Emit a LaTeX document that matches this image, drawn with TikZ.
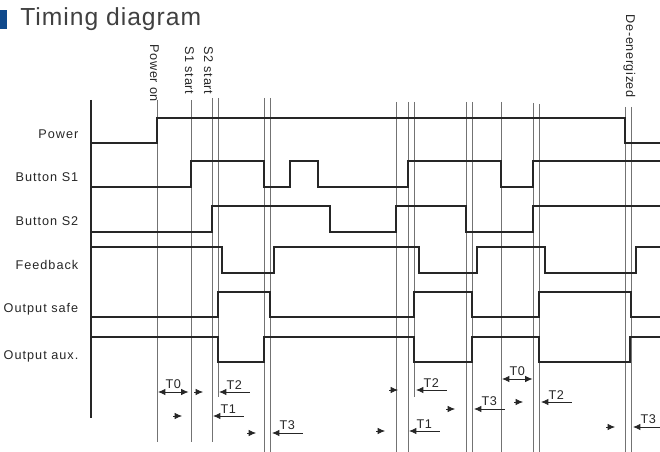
\documentclass[tikz,border=0pt]{standalone}
\usepackage{fontspec}
\setmainfont{Liberation Sans}
\newfontfamily\sigfont[LetterSpace=8]{Liberation Sans}
\newfontfamily\evtfont[LetterSpace=5]{Liberation Sans}
\newfontfamily\headfont[LetterSpace=4]{Liberation Sans}
\usetikzlibrary{arrows.meta}

\definecolor{headblue}{RGB}{16,74,140}

\newcommand*{\xleft}{91}
\newcommand*{\xright}{662}
\newcommand*{\ytop}{100}
\newcommand*{\ybot}{455}

\begin{document}
\begin{tikzpicture}
[
	x=0.75pt, y=-0.75pt,
	signal/.style={draw=black!85, line width=1.1pt},
	marker/.style={draw=black!55, line width=0.75pt},
	signame/.style={anchor=base east, text=black!85, font={\sigfont\fontsize{9.5}{11}\selectfont}},
	event/.style={rotate=-90, anchor=base west, text=black!85, font={\evtfont\fontsize{9.5}{11}\selectfont}},
	tlbl/.style={anchor=south west, inner xsep=0pt, inner ysep=2pt, minimum width=22.5pt, text=black!85, font={\evtfont\fontsize{9.5}{11}\selectfont}},
	lead/.style={-{Latex[length=5.5pt,width=4.8pt]}, draw=black!85, fill=black!85, line width=0.5pt},
	back/.style={-{Latex[length=5.5pt,width=4.8pt]}, draw=black!85, line width=0.6pt},
	both/.style={{Latex[length=5.5pt,width=4.8pt]}-{Latex[length=5.5pt,width=4.8pt]}, draw=black!85, line width=0.6pt}
]
	\useasboundingbox (0,0) rectangle (660,452);

	% title
	\fill[headblue] (0,10) rectangle (7,29);
	\node[anchor=base west, inner sep=0pt, text=black!75, font={\headfont\fontsize{18.5}{21}\selectfont}] (title) at (20,26) {Timing diagram};

	% events
	\node[event] (poweron) at (150,40) {Power on};
	\node[event] (sonestart) at (185,42) {S1 start};
	\node[event] (stwostart) at (204,42) {S2 start};
	\node[event] (deenergized) at (626,10) {De-energized};

	% signal names
	\node[signame] (power) at (83,139) {Power};
	\node[signame] (sone) at (83,182) {Button S1};
	\node[signame] (stwo) at (83,226) {Button S2};
	\node[signame] (feedback) at (83,269) {Feedback};
	\node[signame] (safe) at (83,312) {Output safe};
	\node[signame] (aux) at (83,359) {Output aux.};

	% event lines
	\draw[marker] (157,\ytop) -- (157,442);
	\draw[marker] (191,\ytop) -- (191,442);
	\draw[marker] (212,98) -- (212,442);
	\draw[marker] (218,98) -- (218,397);
	\draw[marker] (264,98) -- (264,\ybot);
	\draw[marker] (270,98) -- (270,\ybot);
	\draw[marker] (396,102) -- (396,\ybot);
	\draw[marker] (408,102) -- (408,\ybot);
	\draw[marker] (414,102) -- (414,397);
	\draw[marker] (466,102) -- (466,\ybot);
	\draw[marker] (472,102) -- (472,\ybot);
	\draw[marker] (501,102) -- (501,\ybot);
	\draw[marker] (533,103) -- (533,\ybot);
	\draw[marker] (539,104) -- (539,\ybot);
	\draw[marker] (625,107) -- (625,\ybot);
	\draw[marker] (631,107) -- (631,\ybot);

	% axis
	\draw[draw=black!85, line width=0.8pt] (\xleft,\ytop) -- (\xleft,418);

	% signals
	\draw[signal] (\xleft,143) -- (157,143) |- (625,118) |- (\xright,143);
	\draw[signal] (\xleft,187) -- (191,187) |- (264,161) |- (290,187) |- (318,161) |- (408,187) |- (501,161) |- (533,187) |- (\xright,161);
	\draw[signal] (\xleft,232) -- (212,232) |- (330,206) |- (396,232) |- (466,206) |- (533,232) |- (\xright,206);
	\draw[signal] (\xleft,247) -- (222,247) |- (274,273) |- (419,247) |- (477,273) |- (545,247) |- (636,273) |- (\xright,247);
	\draw[signal] (\xleft,317) -- (218,317) |- (270,292) |- (414,317) |- (472,292) |- (539,317) |- (631,292) |- (\xright,317);
	\draw[signal] (\xleft,337) -- (218,337) |- (264,362) |- (414,337) |- (472,362) |- (539,337) |- (630,362) |- (\xright,337);

	% times, first cycle
	\node[tlbl] (T0a) at (158,392) {T0};
	\draw[both] (T0a.south west) -- (T0a.south east);
	\draw[lead] (194,392) -- (203,392);
	\node[tlbl] (T2a) at (219,392) {T2};
	\draw[back] (T2a.south east) -- (T2a.south west);
	\draw[lead] (173,416) -- (182,416);
	\node[tlbl] (T1a) at (213,416) {T1};
	\draw[back] (T1a.south east) -- (T1a.south west);
	\draw[lead] (247,433) -- (256,433);
	\node[tlbl] (T3a) at (272,433) {T3};
	\draw[back] (T3a.south east) -- (T3a.south west);

	% times, second cycle
	\draw[lead] (389,390) -- (398,390);
	\node[tlbl] (T2b) at (416,390) {T2};
	\draw[back] (T2b.south east) -- (T2b.south west);
	\draw[lead] (446,409) -- (455,409);
	\node[tlbl] (T3b) at (474,409) {T3};
	\draw[back] (T3b.south east) -- (T3b.south west);
	\draw[lead] (376,431) -- (385,431);
	\node[tlbl] (T1b) at (409,431) {T1};
	\draw[back] (T1b.south east) -- (T1b.south west);

	% times, third cycle
	\node[tlbl] (T0b) at (502,379) {T0};
	\draw[both] (T0b.south west) -- (T0b.south east);
	\draw[lead] (514,402) -- (523,402);
	\node[tlbl] (T2c) at (541,402) {T2};
	\draw[back] (T2c.south east) -- (T2c.south west);
	\draw[lead] (606,427) -- (615,427);
	\node[tlbl] (T3c) at (633,427) {T3};
	\draw[back] (T3c.south east) -- (T3c.south west);

\end{tikzpicture}
\end{document}
